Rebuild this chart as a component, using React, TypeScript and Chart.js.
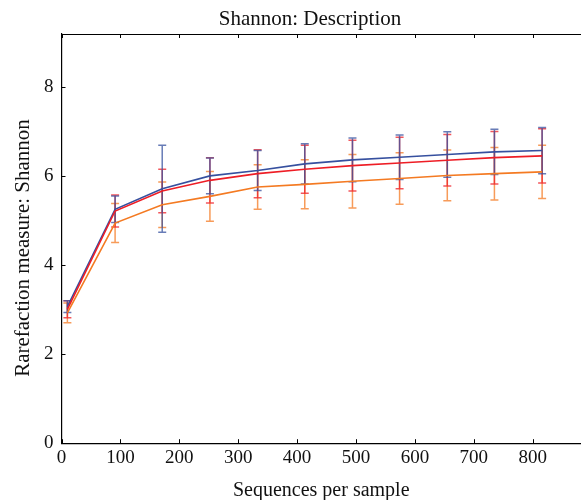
import React, { useEffect, useRef } from "react";
import { Chart, registerables } from "chart.js";
Chart.register(...registerables);

const chartTitle = "Shannon: Description";
const xAxisTitle = "Sequences per sample";
const yAxisTitle = "Rarefaction measure: Shannon";

const xValues = [10, 91, 171, 252, 333, 413, 494, 574, 655, 735, 816];
const blueMean = [3.07, 5.26, 5.72, 6.01, 6.13, 6.28, 6.37, 6.43, 6.49, 6.55, 6.58];
const blueStd = [0.13, 0.3, 0.98, 0.4, 0.45, 0.45, 0.49, 0.5, 0.51, 0.51, 0.52];
const redMean = [3.01, 5.22, 5.67, 5.91, 6.06, 6.16, 6.24, 6.3, 6.36, 6.42, 6.46];
const redStd = [0.19, 0.36, 0.49, 0.51, 0.54, 0.54, 0.57, 0.58, 0.58, 0.59, 0.61];
const orangeMean = [2.93, 4.95, 5.36, 5.55, 5.76, 5.82, 5.89, 5.95, 6.02, 6.06, 6.1];
const orangeStd = [0.22, 0.44, 0.51, 0.56, 0.5, 0.55, 0.6, 0.58, 0.57, 0.59, 0.6];

const xTickValues = [0, 100, 200, 300, 400, 500, 600, 700, 800];
const yTickValues = [0, 2, 4, 6, 8];

const FONT = "'Liberation Serif', 'Times New Roman', serif";

const seriesDefs = [
  { label: "Group C", mean: orangeMean, std: orangeStd, color: "#f47a22", errColor: "rgba(244,122,34,0.75)" },
  { label: "Group B", mean: redMean, std: redStd, color: "#ee1d25", errColor: "rgba(238,29,37,0.75)" },
  { label: "Group A", mean: blueMean, std: blueStd, color: "#36509f", errColor: "rgba(54,80,159,0.75)" },
];

const errorBarPlugin = {
  id: "errorBars",
  beforeDatasetsDraw(chart: any) {
    const ctx = chart.ctx;
    const xs = chart.scales.x;
    const ys = chart.scales.y;
    ctx.save();
    seriesDefs.forEach((s) => {
      ctx.strokeStyle = s.errColor;
      ctx.lineWidth = 1.5;
      xValues.forEach((xv, i) => {
        const px = xs.getPixelForValue(xv);
        const top = ys.getPixelForValue(s.mean[i] + s.std[i]);
        const bot = ys.getPixelForValue(s.mean[i] - s.std[i]);
        const cap = 4;
        ctx.beginPath();
        ctx.moveTo(px, top);
        ctx.lineTo(px, bot);
        ctx.moveTo(px - cap, top);
        ctx.lineTo(px + cap, top);
        ctx.moveTo(px - cap, bot);
        ctx.lineTo(px + cap, bot);
        ctx.stroke();
      });
    });
    ctx.restore();
  },
};

const framePlugin = {
  id: "frameTicks",
  afterDraw(chart: any) {
    const ctx = chart.ctx;
    const { left, right, top, bottom } = chart.chartArea;
    const xs = chart.scales.x;
    const ys = chart.scales.y;
    ctx.save();
    ctx.strokeStyle = "#000";
    ctx.lineWidth = 1.2;
    ctx.beginPath();
    ctx.moveTo(left, top + 0.5);
    ctx.lineTo(right, top + 0.5);
    ctx.stroke();
    const tl = 4;
    ctx.lineWidth = 1;
    ctx.beginPath();
    xs.ticks.forEach((t: any) => {
      const px = Math.round(xs.getPixelForValue(t.value)) + 0.5;
      ctx.moveTo(px, bottom);
      ctx.lineTo(px, bottom - tl);
      ctx.moveTo(px, top);
      ctx.lineTo(px, top + tl);
    });
    ys.ticks.forEach((t: any) => {
      const py = Math.round(ys.getPixelForValue(t.value)) + 0.5;
      ctx.moveTo(left, py);
      ctx.lineTo(left + tl, py);
    });
    ctx.stroke();
    ctx.fillStyle = "#111";
    ctx.textAlign = "center";
    ctx.textBaseline = "alphabetic";
    ctx.font = `21px ${FONT}`;
    ctx.fillText(chartTitle, 310, 25);
    ctx.translate(29, 248);
    ctx.rotate(-Math.PI / 2);
    ctx.font = `21px ${FONT}`;
    ctx.fillText(yAxisTitle, 0, 0);
    ctx.restore();
  },
};

export default function App() {
  const ref = useRef<HTMLCanvasElement>(null);
  useEffect(() => {
    if (!ref.current) return;
    const chart = new Chart(ref.current, {
      type: "line",
      data: {
        datasets: seriesDefs.map((s) => ({
          label: s.label,
          data: xValues.map((x, i) => ({ x, y: s.mean[i] })),
          borderColor: s.color,
          backgroundColor: s.color,
          borderWidth: 1.6,
          pointRadius: 0,
          tension: 0,
        })),
      },
      plugins: [errorBarPlugin, framePlugin],
      options: {
        animation: false,
        responsive: false,
        devicePixelRatio: 1,
        layout: { padding: { left: 36, right: 0, top: 34, bottom: 0 } },
        plugins: { legend: { display: false }, tooltip: { enabled: false }, title: { display: false } },
        scales: {
          x: {
            type: "linear",
            min: 0,
            max: 882,
            afterBuildTicks: (scale: any) => {
              scale.ticks = xTickValues.map((v) => ({ value: v }));
            },
            ticks: { color: "#111", font: { family: FONT, size: 19 }, padding: 3, maxRotation: 0, autoSkip: false },
            grid: { display: false, drawTicks: false },
            border: { display: true, color: "#000", width: 1.2 },
            title: { display: true, text: xAxisTitle, color: "#111", font: { family: FONT, size: 20, lineHeight: 0.9 }, padding: { top: 10, bottom: 0 } },
          },
          y: {
            type: "linear",
            min: 0,
            max: 9.2,
            afterBuildTicks: (scale: any) => {
              scale.ticks = yTickValues.map((v) => ({ value: v }));
            },
            ticks: { color: "#111", font: { family: FONT, size: 19 }, padding: 8, autoSkip: false },
            grid: { display: false, drawTicks: false },
            border: { display: true, color: "#000", width: 1.2 },
          },
        },
      },
    });
    return () => chart.destroy();
  }, []);
  return (
    <div style={{ position: "absolute", left: 0, top: 0, width: 581, height: 500, background: "#fff" }}>
      <canvas ref={ref} width={581} height={500} />
    </div>
  );
}
